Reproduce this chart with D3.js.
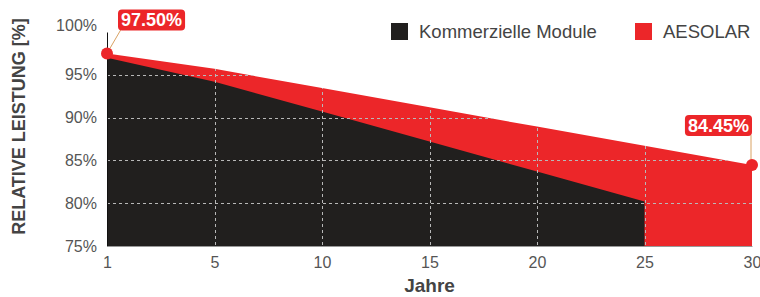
<!DOCTYPE html>
<html>
<head>
<meta charset="utf-8">
<script src="https://cdn.jsdelivr.net/npm/d3@7"></script>
<style>
  body { margin: 0; background: #fff; }
  text { font-family: "Liberation Sans", Arial, sans-serif; }
</style>
</head>
<body>
<svg id="chart" width="760" height="297"></svg>
<script>
var years = ['1', '5', '10', '15', '20', '25', '30'];
var aesolar = [97.5, 95.7, 93.45, 91.2, 88.95, 86.7, 84.45];
var kommerziell = [97, 94.2, 90.7, 87.2, 83.7, 80.2];
var yTicks = [75, 80, 85, 90, 95, 100];
var gridY = [80, 85, 90, 95];
var gridX = ['5', '10', '15', '20', '25'];
var seriesNames = ['Kommerzielle Module', 'AESOLAR'];
var seriesColors = ['#211f1e', '#ec2629'];

var width = 760, height = 297,
  margin = { top: 32, right: 8, bottom: 51, left: 107 };

var svg = d3.select('#chart');

var x = d3.scalePoint()
  .domain(years)
  .range([margin.left, width - margin.right]);

var y = d3.scaleLinear()
  .domain([75, 100])
  .range([height - margin.bottom, margin.top]);

// areas (fill down to the 75% baseline)
var area = d3.area()
  .x(function(d, i) { return x(years[i]); })
  .y0(y(75))
  .y1(function(d) { return y(d); });

var redPath = area(aesolar);

svg.append('path')
  .attr('d', redPath)
  .attr('fill', seriesColors[1]);

svg.append('path')
  .attr('d', area(kommerziell))
  .attr('fill', seriesColors[0]);

// grid only shows inside the filled region
svg.append('clipPath')
  .attr('id', 'fill-clip')
  .append('path')
  .attr('d', redPath);

var grid = svg.append('g')
  .attr('clip-path', 'url(#fill-clip)')
  .attr('stroke', '#b8b8b8')
  .attr('stroke-width', 1)
  .attr('stroke-dasharray', '3,3');

grid.selectAll('.gy')
  .data(gridY)
  .enter()
  .append('line')
  .attr('x1', margin.left)
  .attr('x2', width - margin.right)
  .attr('y1', function(d) { return Math.round(y(d)) + 0.5; })
  .attr('y2', function(d) { return Math.round(y(d)) + 0.5; });

grid.selectAll('.gx')
  .data(gridX)
  .enter()
  .append('line')
  .attr('y1', margin.top)
  .attr('y2', height - margin.bottom)
  .attr('x1', function(d) { return Math.round(x(d)) + 0.5; })
  .attr('x2', function(d) { return Math.round(x(d)) + 0.5; });

// axes
var yAxis = svg.append('g')
  .attr('transform', 'translate(' + margin.left + ',0)')
  .call(d3.axisLeft(y)
    .tickValues(yTicks)
    .tickFormat(function(d) { return d + '%'; })
    .tickSize(0)
    .tickSizeOuter(0)
    .tickPadding(10));
yAxis.select('.domain').attr('stroke', '#111');
yAxis.selectAll('text')
  .attr('font-size', 16)
  .attr('fill', '#555')
  .attr('font-family', '"Liberation Sans", Arial, sans-serif')
  .attr('y', function(d) { return d === 100 ? -7 : 0; });

var xAxis = svg.append('g')
  .attr('transform', 'translate(0,' + (height - margin.bottom) + ')')
  .call(d3.axisBottom(x)
    .tickSize(0)
    .tickSizeOuter(0)
    .tickPadding(11));
xAxis.select('.domain').attr('stroke', '#999');
xAxis.selectAll('text')
  .attr('font-size', 16)
  .attr('fill', '#555')
  .attr('font-family', '"Liberation Sans", Arial, sans-serif');

// axis titles
svg.append('text')
  .attr('x', (margin.left + width - margin.right) / 2)
  .attr('y', 292)
  .attr('text-anchor', 'middle')
  .attr('font-size', 19)
  .attr('font-weight', 'bold')
  .attr('fill', '#444')
  .text('Jahre');

svg.append('text')
  .attr('transform', 'translate(25,126.5) rotate(-90)')
  .attr('text-anchor', 'middle')
  .attr('font-size', 18)
  .attr('font-weight', 'bold')
  .attr('fill', '#444')
  .text('RELATIVE LEISTUNG [%]');

// legend
var legendX = [391, 635];
var legend = svg.selectAll('.legend')
  .data(seriesNames)
  .enter()
  .append('g')
  .attr('transform', function(d, i) { return 'translate(' + legendX[i] + ',23)'; });

legend.append('rect')
  .attr('width', 17)
  .attr('height', 17)
  .attr('fill', function(d, i) { return seriesColors[i]; });

legend.append('text')
  .attr('x', 28)
  .attr('y', 15.3)
  .attr('font-size', 18.5)
  .attr('fill', '#444')
  .text(function(d) { return d; });

// callouts on first and last AESOLAR point
var callouts = [
  { i: 0, dx: 11, dy: -44, anchor: 'start' },
  { i: aesolar.length - 1, dx: 0, dy: -50, anchor: 'end' }
];

callouts.forEach(function(c) {
  var px = x(years[c.i]), py = y(aesolar[c.i]);
  var g = svg.append('g');
  var label = g.append('text')
    .attr('font-size', 18)
    .attr('font-weight', 'bold')
    .attr('fill', '#fff')
    .text(d3.format('.2f')(aesolar[c.i]) + '%');
  var w = label.node().getComputedTextLength() + 6, h = 21;
  var bx = c.anchor === 'start' ? px + c.dx : px - w;
  var by = py + c.dy;

  var lx = c.anchor === 'start' ? bx + 3 : px - 1;
  g.insert('line', 'text')
    .attr('x1', c.anchor === 'start' ? px : lx).attr('y1', py)
    .attr('x2', lx).attr('y2', by + h - 1)
    .attr('stroke', '#d9a263')
    .attr('stroke-width', 1);
  g.insert('rect', 'text')
    .attr('x', bx).attr('y', by)
    .attr('width', w).attr('height', h)
    .attr('rx', 4)
    .attr('fill', seriesColors[1]);
  label
    .attr('x', bx + w / 2)
    .attr('y', by + h / 2 + 6.5)
    .attr('text-anchor', 'middle');
  g.append('circle')
    .attr('cx', px).attr('cy', py)
    .attr('r', 6)
    .attr('fill', seriesColors[1]);
});
</script>
</body>
</html>
